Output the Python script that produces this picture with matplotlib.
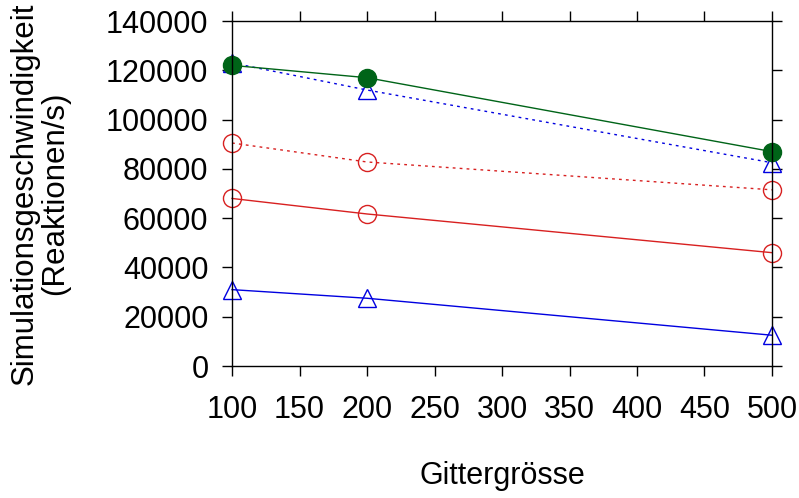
import matplotlib
matplotlib.use("Agg")
import matplotlib.pyplot as plt

plt.rcParams["font.family"] = ["Liberation Sans", "DejaVu Sans"]

# Gittergrösse (x) and Simulationsgeschwindigkeit per series
grid_size = [100, 200, 500]
blue_solid = [31000, 27500, 12500]
red_solid = [68000, 61700, 46000]
red_dotted = [90500, 82800, 71500]
blue_dotted = [123000, 112000, 82500]
green_solid = [122000, 117000, 87000]

x_ticks = [100, 150, 200, 250, 300, 350, 400, 450, 500]
y_ticks = [0, 20000, 40000, 60000, 80000, 100000, 120000, 140000]

BLUE = "#0000e0"
RED = "#d82020"
GREEN = "#006418"

fig = plt.figure(figsize=(7.99, 4.98), dpi=100)
ax = fig.add_axes([0.2904, 0.265, 0.9662 - 0.2904, 0.9578 - 0.265])

open_kw = dict(markersize=13, markerfacecolor="none", markeredgewidth=1.0,
               linewidth=1.0, clip_on=False)
ax.plot(grid_size, blue_solid, color=BLUE, marker="^", **open_kw)
ax.plot(grid_size, red_solid, color=RED, marker="o", **open_kw)
ax.plot(grid_size, red_dotted, color=RED, marker="o", dashes=(2, 3), **open_kw)
ax.plot(grid_size, blue_dotted, color=BLUE, marker="^", dashes=(2, 3), **open_kw)
ax.plot(grid_size, green_solid, color=GREEN, marker="o", markersize=13,
        markerfacecolor=GREEN, markeredgecolor=GREEN, linewidth=1.0, clip_on=False)

ax.set_xlim(100, 500)
ax.set_ylim(0, 140000)
ax.set_xticks(x_ticks)
ax.set_yticks(y_ticks)

ax.tick_params(axis="both", which="both", direction="out", length=7, width=1,
               top=True, right=True, labelsize=22, pad=10)
ax.tick_params(axis="x", pad=14)
for sp in ax.spines.values():
    sp.set_linewidth(1)

ax.set_xlabel("Gittergrösse", fontsize=22, labelpad=26)
ax.set_ylabel("Simulationsgeschwindigkeit\n(Reaktionen/s)", fontsize=22.5,
              labelpad=26, linespacing=1.0)

fig.savefig("out.png", dpi=100)
